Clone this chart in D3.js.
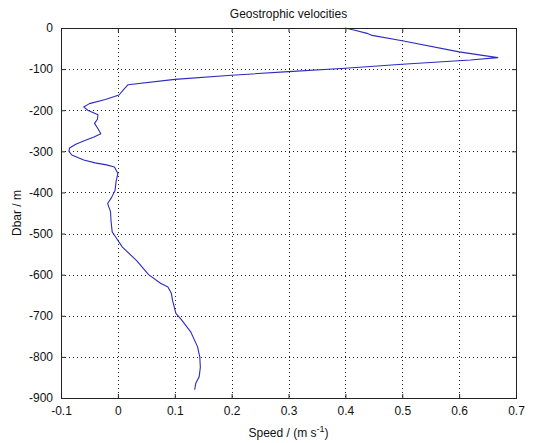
<!DOCTYPE html>
<html>
<head>
<meta charset="utf-8">
<script src="https://cdn.jsdelivr.net/npm/d3@7"></script>
<style>
  html, body { margin: 0; padding: 0; background: #fff; }
  svg { display: block; font-family: "Liberation Sans", Arial, Helvetica, sans-serif; }
</style>
</head>
<body>
<svg id="chart" width="542" height="443"></svg>
<script>
// Pressure levels (dbar, negative downward) and geostrophic speed (m/s)
const depth = [0, -5, -13, -18, -31, -58, -72, -78, -88, -98, -106, -115, -125, -138, -150,
  -163, -174, -184, -192, -200, -211, -222, -232, -245, -257, -265, -273, -283, -292, -300,
  -309, -321, -328, -333, -338, -354, -372, -395, -412, -427, -435, -446, -470, -496, -504,
  -533, -566, -600, -621, -630, -645, -662, -694, -710, -739, -775, -800, -825, -848, -864, -880];
const speed = [0.399, 0.415, 0.438, 0.447, 0.500, 0.600, 0.668, 0.620, 0.500, 0.400, 0.300,
  0.200, 0.100, 0.018, 0.010, 0.002, -0.022, -0.050, -0.060, -0.053, -0.035, -0.036, -0.041,
  -0.035, -0.030, -0.042, -0.057, -0.074, -0.085, -0.086, -0.081, -0.060, -0.040, -0.020,
  -0.006, 0.000, -0.003, -0.005, -0.011, -0.018, -0.016, -0.013, -0.012, -0.010, -0.006,
  0.008, 0.033, 0.054, 0.075, 0.088, 0.094, 0.096, 0.102, 0.112, 0.128, 0.140, 0.144,
  0.145, 0.143, 0.137, 0.135];

const xTicks = [-0.1, 0, 0.1, 0.2, 0.3, 0.4, 0.5, 0.6, 0.7];
const yTicks = [0, -100, -200, -300, -400, -500, -600, -700, -800, -900];
const titleText = "Geostrophic velocities";
const yLabelText = "Dbar / m";

const svg = d3.select("#chart");
const m = { left: 61, right: 516, top: 28, bottom: 398 };

const x = d3.scaleLinear().domain([-0.1, 0.7]).range([m.left, m.right]);
const y = d3.scaleLinear().domain([-900, 0]).range([m.bottom, m.top]);

const fmtX = d => (d === 0 ? "0" : d3.format(".1f")(d).replace("−", "-").replace(/^(-?)0\./, "$10."));
const fmtY = d => String(d);

// dotted grid
const grid = svg.append("g").attr("stroke", "#222").attr("stroke-width", 1)
  .attr("stroke-dasharray", "1,3");
grid.selectAll("line.gx").data(xTicks.slice(1, -1)).join("line")
  .attr("x1", d => Math.round(x(d)) + 0.5).attr("x2", d => Math.round(x(d)) + 0.5)
  .attr("y1", m.top).attr("y2", m.bottom);
grid.selectAll("line.gy").data(yTicks.slice(1, -1)).join("line")
  .attr("y1", d => Math.round(y(d)) + 0.5).attr("y2", d => Math.round(y(d)) + 0.5)
  .attr("x1", m.left).attr("x2", m.right);

// profile line
const line = d3.line().x((d, i) => x(speed[i])).y(d => y(d));
svg.append("path").datum(depth)
  .attr("d", line)
  .attr("fill", "none")
  .attr("stroke", "#2b2bc4")
  .attr("stroke-width", 1.1)
  .attr("stroke-linejoin", "round");

// axes with inward ticks on all four sides
const tickStyle = g => {
  g.select(".domain").remove();
  g.selectAll(".tick line").attr("stroke", "#222");
  g.selectAll(".tick text").attr("fill", "#111").style("font-size", "12px");
};
svg.append("g").attr("transform", `translate(0,${m.bottom})`)
  .call(d3.axisBottom(x).tickValues(xTicks).tickFormat(fmtX).tickSizeInner(-4).tickPadding(8))
  .call(tickStyle);
svg.append("g").attr("transform", `translate(0,${m.top})`)
  .call(d3.axisTop(x).tickValues(xTicks).tickFormat("").tickSizeInner(-4))
  .call(tickStyle);
svg.append("g").attr("transform", `translate(${m.left},0)`)
  .call(d3.axisLeft(y).tickValues(yTicks).tickFormat(fmtY).tickSizeInner(-4).tickPadding(8))
  .call(tickStyle);
svg.append("g").attr("transform", `translate(${m.right},0)`)
  .call(d3.axisRight(y).tickValues(yTicks).tickFormat("").tickSizeInner(-4))
  .call(tickStyle);

// box
svg.append("rect")
  .attr("x", m.left + 0.5).attr("y", m.top + 0.5)
  .attr("width", m.right - m.left).attr("height", m.bottom - m.top)
  .attr("fill", "none").attr("stroke", "#222").attr("stroke-width", 1);

// title
svg.append("text")
  .attr("x", (m.left + m.right) / 2).attr("y", 18)
  .attr("text-anchor", "middle").style("font-size", "12px").attr("fill", "#111")
  .text(titleText);

// y label
svg.append("text")
  .attr("transform", `translate(21,${(m.top + m.bottom) / 2}) rotate(-90)`)
  .attr("text-anchor", "middle").style("font-size", "12px").attr("fill", "#111")
  .text(yLabelText);

// x label with superscript
const xl = svg.append("text")
  .attr("x", (m.left + m.right) / 2).attr("y", 437)
  .attr("text-anchor", "middle").style("font-size", "12px").attr("fill", "#111");
xl.append("tspan").text("Speed / (m s");
xl.append("tspan").attr("dy", -5).style("font-size", "9px").text("-1");
xl.append("tspan").attr("dy", 5).text(")");
</script>
</body>
</html>
